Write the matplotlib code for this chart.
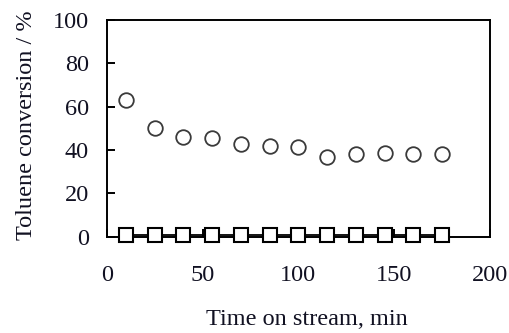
import matplotlib
matplotlib.use("Agg")
import matplotlib.pyplot as plt

plt.rcParams['font.family'] = ['Liberation Serif', 'DejaVu Serif']

time_min = [10, 25, 40, 55, 70, 85, 100, 115, 130, 145, 160, 175]
conv_circle = [63, 50, 46, 45.5, 43, 42, 41.5, 37, 38, 38.5, 38, 38]
conv_square = [1, 1, 1, 1, 1, 1, 1, 1, 1, 1, 1, 1]

x_ticks = [0, 50, 100, 150, 200]
y_ticks = [0, 20, 40, 60, 80, 100]

text_color = '#111122'
fs = 17.5

fig = plt.figure(figsize=(5.10, 3.33), dpi=100)
ax = fig.add_axes([0.2095, 0.289, 0.751, 0.651])

ax.plot(time_min, conv_square, color='black', lw=1.3, marker='s', ms=10.5,
        mfc='white', mec='black', mew=1.5, zorder=3, clip_on=False)
ax.plot(time_min, conv_circle, ls='none', marker='o', ms=10.5,
        mfc='white', mec='#3a3a3a', mew=1.3, zorder=4)

ax.set_xlim(0, 200)
ax.set_ylim(0, 100)
ax.set_xticks(x_ticks)
ax.set_yticks(y_ticks)

for s in ax.spines.values():
    s.set_linewidth(1.4)
    s.set_color('black')

ax.tick_params(axis='both', direction='in', length=6, width=1.4,
               labelsize=fs, labelcolor=text_color, top=False, right=False)
ax.tick_params(axis='x', pad=20)
ax.tick_params(axis='y', pad=13)

ax.set_xlabel('Time on stream, min', fontsize=fs, color=text_color, labelpad=17)
ax.xaxis.label.set_x(0.521)
ax.set_ylabel('Toluene conversion / %', fontsize=fs, color=text_color, labelpad=11)
ax.yaxis.label.set_y(0.515)

fig.savefig('out.png', dpi=100, facecolor='white')
